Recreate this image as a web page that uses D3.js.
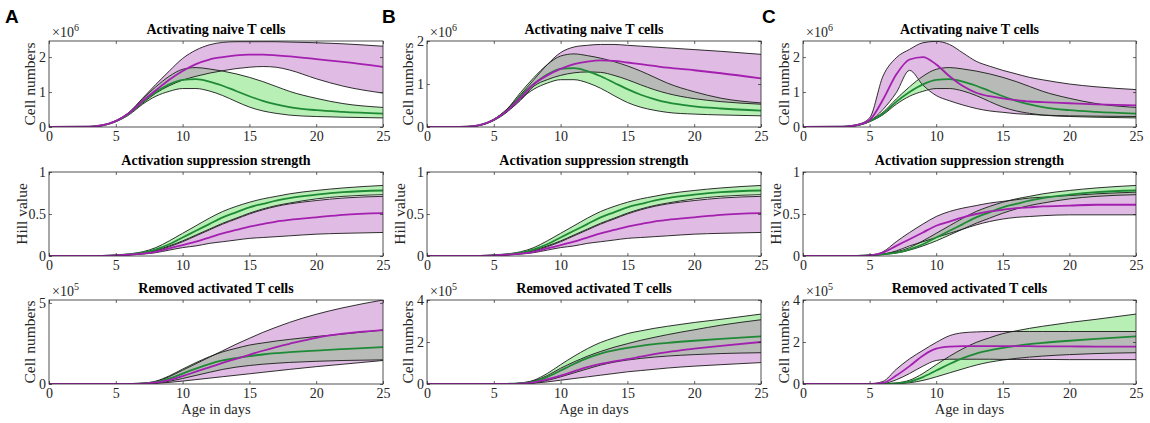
<!DOCTYPE html>
<html>
<head>
<meta charset="utf-8">
<script src="https://cdn.jsdelivr.net/npm/d3@7"></script>
<style>
  body { margin: 0; background: #fff; }
  svg { display: block; }
  text { font-family: "Liberation Serif", "Times New Roman", serif; }
</style>
</head>
<body>
<svg id="fig" width="1150" height="423"></svg>
<script>
// sample days shared by every curve
const days = [0, 3, 4, 5, 6, 7, 8, 9, 10, 11, 12, 13, 14, 15, 16, 17, 18, 20, 22, 25];

// row 1: activating naive T cells (x 1e6) -- green band is the same in every column
const gLow1 = [0, 0.01, 0.04, 0.15, 0.35, 0.65, 0.88, 1.02, 1.1, 1.1, 1.03, 0.9, 0.73, 0.57, 0.46, 0.39, 0.34, 0.3, 0.28, 0.26];
const gMid1 = [0, 0.01, 0.05, 0.17, 0.38, 0.72, 1.0, 1.22, 1.35, 1.37, 1.3, 1.18, 1.03, 0.88, 0.75, 0.65, 0.57, 0.48, 0.43, 0.38];
const gUp1 = [0, 0.01, 0.05, 0.18, 0.42, 0.8, 1.15, 1.45, 1.65, 1.7, 1.66, 1.6, 1.52, 1.42, 1.3, 1.16, 1.02, 0.82, 0.67, 0.56];

const pLowA1 = [0, 0.01, 0.05, 0.17, 0.38, 0.68, 0.97, 1.18, 1.34, 1.45, 1.54, 1.61, 1.67, 1.71, 1.73, 1.71, 1.63, 1.38, 1.17, 0.97];
const pMidA1 = [0, 0.01, 0.05, 0.17, 0.4, 0.74, 1.05, 1.35, 1.6, 1.8, 1.93, 2.0, 2.05, 2.07, 2.07, 2.05, 2.02, 1.94, 1.86, 1.72];
const pUpA1 = [0, 0.01, 0.05, 0.18, 0.42, 0.82, 1.22, 1.6, 1.96, 2.2, 2.35, 2.42, 2.44, 2.44, 2.44, 2.44, 2.43, 2.41, 2.38, 2.31];

const pLowB1 = [0, 0.01, 0.04, 0.16, 0.36, 0.62, 0.95, 1.1, 1.2, 1.26, 1.28, 1.27, 1.2, 1.1, 0.98, 0.87, 0.78, 0.66, 0.59, 0.53];
const pMidB1 = [0, 0.01, 0.05, 0.17, 0.38, 0.68, 1.0, 1.2, 1.35, 1.46, 1.52, 1.55, 1.54, 1.5, 1.46, 1.42, 1.38, 1.32, 1.25, 1.13];
const pUpB1 = [0, 0.01, 0.05, 0.18, 0.42, 0.75, 1.1, 1.45, 1.73, 1.86, 1.9, 1.92, 1.92, 1.9, 1.88, 1.86, 1.84, 1.8, 1.76, 1.69];

const pLowC1 = [0, 0.01, 0.04, 0.16, 0.5, 0.98, 1.62, 1.2, 0.9, 0.75, 0.63, 0.53, 0.46, 0.42, 0.38, 0.36, 0.34, 0.32, 0.31, 0.3];
const pMidC1 = [0, 0.01, 0.05, 0.2, 0.78, 1.5, 1.93, 2.0, 1.79, 1.45, 1.17, 0.98, 0.88, 0.82, 0.77, 0.73, 0.71, 0.68, 0.65, 0.62];
const pUpC1 = [0, 0.01, 0.06, 0.26, 1.45, 1.98, 2.22, 2.41, 2.45, 2.36, 2.12, 1.88, 1.74, 1.62, 1.52, 1.42, 1.35, 1.23, 1.15, 1.07];

// row 2: activation suppression strength (hill value)
const gLow2 = [0, 0, 0.002, 0.008, 0.018, 0.035, 0.07, 0.12, 0.18, 0.25, 0.32, 0.39, 0.45, 0.51, 0.56, 0.6, 0.63, 0.68, 0.71, 0.73];
const gMid2 = [0, 0, 0.002, 0.01, 0.02, 0.04, 0.08, 0.14, 0.22, 0.3, 0.38, 0.46, 0.52, 0.58, 0.62, 0.66, 0.69, 0.73, 0.76, 0.78];
const gUp2 = [0, 0, 0.002, 0.01, 0.025, 0.05, 0.1, 0.18, 0.27, 0.36, 0.45, 0.53, 0.59, 0.64, 0.68, 0.71, 0.74, 0.78, 0.81, 0.84];

const pLowA2 = [0, 0, 0.002, 0.006, 0.012, 0.022, 0.04, 0.07, 0.1, 0.12, 0.15, 0.17, 0.19, 0.21, 0.22, 0.23, 0.24, 0.26, 0.27, 0.28];
const pMidA2 = [0, 0, 0.002, 0.007, 0.015, 0.028, 0.05, 0.09, 0.13, 0.17, 0.22, 0.27, 0.31, 0.35, 0.38, 0.41, 0.43, 0.46, 0.49, 0.51];
const pUpA2 = [0, 0, 0.002, 0.008, 0.017, 0.03, 0.06, 0.11, 0.17, 0.24, 0.31, 0.38, 0.44, 0.5, 0.55, 0.59, 0.62, 0.66, 0.69, 0.71];

const pLowB2 = [0, 0, 0.002, 0.006, 0.012, 0.022, 0.04, 0.07, 0.1, 0.12, 0.15, 0.17, 0.19, 0.21, 0.22, 0.23, 0.24, 0.26, 0.27, 0.28];
const pMidB2 = [0, 0, 0.002, 0.007, 0.015, 0.028, 0.05, 0.09, 0.13, 0.17, 0.22, 0.27, 0.31, 0.35, 0.38, 0.41, 0.43, 0.46, 0.49, 0.51];
const pUpB2 = [0, 0, 0.002, 0.008, 0.017, 0.03, 0.06, 0.11, 0.17, 0.24, 0.31, 0.38, 0.44, 0.5, 0.55, 0.59, 0.62, 0.66, 0.69, 0.71];

const pLowC2 = [0, 0, 0.002, 0.006, 0.02, 0.06, 0.12, 0.17, 0.22, 0.27, 0.32, 0.37, 0.41, 0.44, 0.46, 0.47, 0.48, 0.49, 0.49, 0.49];
const pMidC2 = [0, 0, 0.002, 0.008, 0.04, 0.12, 0.2, 0.28, 0.36, 0.41, 0.46, 0.5, 0.53, 0.55, 0.57, 0.58, 0.59, 0.6, 0.61, 0.61];
const pUpC2 = [0, 0, 0.002, 0.01, 0.05, 0.17, 0.28, 0.38, 0.47, 0.53, 0.57, 0.6, 0.63, 0.65, 0.67, 0.69, 0.7, 0.72, 0.74, 0.76];

// row 3: removed activated T cells (x 1e5)
const gLow3 = [0, 0, 0, 0, 0, 0.02, 0.06, 0.17, 0.34, 0.53, 0.72, 0.9, 1.04, 1.14, 1.22, 1.28, 1.33, 1.4, 1.45, 1.49];
const gMid3 = [0, 0, 0, 0, 0.01, 0.03, 0.11, 0.33, 0.64, 0.95, 1.23, 1.45, 1.6, 1.72, 1.82, 1.9, 1.96, 2.06, 2.15, 2.27];
const gUp3 = [0, 0, 0, 0, 0.01, 0.05, 0.18, 0.5, 0.92, 1.32, 1.68, 1.98, 2.2, 2.4, 2.53, 2.65, 2.75, 2.93, 3.08, 3.33];

const pLowA3 = [0, 0, 0, 0, 0.003, 0.01, 0.04, 0.1, 0.18, 0.27, 0.36, 0.45, 0.54, 0.63, 0.72, 0.81, 0.9, 1.07, 1.22, 1.45];
const pMidA3 = [0, 0, 0, 0, 0.005, 0.02, 0.08, 0.24, 0.48, 0.76, 1.03, 1.3, 1.55, 1.8, 2.05, 2.28, 2.48, 2.85, 3.1, 3.32];
const pUpA3 = [0, 0, 0, 0, 0.01, 0.04, 0.15, 0.45, 0.85, 1.25, 1.65, 2.05, 2.45, 2.82, 3.18, 3.5, 3.8, 4.3, 4.7, 5.18];

const pLowB3 = [0, 0, 0, 0, 0.003, 0.01, 0.04, 0.1, 0.18, 0.26, 0.34, 0.42, 0.5, 0.58, 0.64, 0.7, 0.76, 0.85, 0.92, 1.02];
const pMidB3 = [0, 0, 0, 0, 0.005, 0.02, 0.08, 0.22, 0.4, 0.6, 0.8, 0.96, 1.08, 1.18, 1.3, 1.42, 1.52, 1.68, 1.82, 2.0];
const pUpB3 = [0, 0, 0, 0, 0.01, 0.04, 0.15, 0.4, 0.75, 1.05, 1.32, 1.55, 1.75, 1.92, 2.08, 2.22, 2.35, 2.58, 2.8, 3.06];

const pLowC3 = [0, 0, 0, 0.003, 0.02, 0.2, 0.5, 0.85, 1.12, 1.18, 1.18, 1.18, 1.18, 1.17, 1.17, 1.17, 1.17, 1.16, 1.16, 1.16];
const pMidC3 = [0, 0, 0, 0.005, 0.05, 0.4, 0.85, 1.35, 1.68, 1.78, 1.8, 1.8, 1.8, 1.8, 1.8, 1.8, 1.79, 1.79, 1.78, 1.78];
const pUpC3 = [0, 0, 0, 0.01, 0.12, 0.7, 1.2, 1.6, 1.98, 2.3, 2.44, 2.48, 2.5, 2.5, 2.5, 2.5, 2.5, 2.5, 2.5, 2.5];

// labels
const panelLetters = ["A", "B", "C"];
const rowTitles = ["Activating naive T cells", "Activation suppression strength", "Removed activated T cells"];
const rowYLabels = ["Cell numbers", "Hill value", "Cell numbers"];
const rowExponents = ["6", null, "5"];
const xTicks = [0, 5, 10, 15, 20, 25];
const xLabel = "Age in days";

const purpleFill = "#e0bbe3";
const greenFill = "#b7efb5";
const grayFill = "#b8bab7";
const purpleLine = "#a31fb0";
const greenLine = "#1f8a35";
const edgeColor = "#1a1a1a";
const axisColor = "#262626";

const cols = [
  { left: 49, right: 383 },
  { left: 427, right: 761 },
  { left: 803, right: 1136 },
];
const rows = [
  { top: 41, bottom: 127, labelOffset: 20 },
  { top: 172, bottom: 256, labelOffset: 28 },
  { top: 300, bottom: 384, labelOffset: 20 },
];
const greenBands = [
  [gLow1, gMid1, gUp1],
  [gLow2, gMid2, gUp2],
  [gLow3, gMid3, gUp3],
];

const panels = [
  { row: 0, col: 0, purple: [pLowA1, pMidA1, pUpA1], ymax: 2.46, yticks: [0, 1, 2] },
  { row: 0, col: 1, purple: [pLowB1, pMidB1, pUpB1], ymax: 2, yticks: [0, 1, 2] },
  { row: 0, col: 2, purple: [pLowC1, pMidC1, pUpC1], ymax: 2.46, yticks: [0, 1, 2] },
  { row: 1, col: 0, purple: [pLowA2, pMidA2, pUpA2], ymax: 1, yticks: [0, 0.5, 1] },
  { row: 1, col: 1, purple: [pLowB2, pMidB2, pUpB2], ymax: 1, yticks: [0, 0.5, 1] },
  { row: 1, col: 2, purple: [pLowC2, pMidC2, pUpC2], ymax: 1, yticks: [0, 0.5, 1] },
  { row: 2, col: 0, purple: [pLowA3, pMidA3, pUpA3], ymax: 5.18, yticks: [0, 5] },
  { row: 2, col: 1, purple: [pLowB3, pMidB3, pUpB3], ymax: 4, yticks: [0, 2, 4] },
  { row: 2, col: 2, purple: [pLowC3, pMidC3, pUpC3], ymax: 4, yticks: [0, 2, 4] },
];

const svg = d3.select("#fig");
const defs = svg.append("defs");

panels.forEach((p, i) => drawPanel(p, i));

// panel letters
panelLetters.forEach((letter, i) => {
  svg
    .append("text")
    .attr("x", [5, 382, 762][i])
    .attr("y", 23)
    .style("font-family", "'Liberation Sans', Arial, sans-serif")
    .style("font-weight", "bold")
    .style("font-size", "19px")
    .text(letter);
});

function drawPanel(p, i) {
  const c = cols[p.col];
  const r = rows[p.row];
  const [gl, gm, gu] = greenBands[p.row];
  const [pl, pm, pu] = p.purple;

  const x = d3.scaleLinear().domain([0, 25]).range([c.left, c.right]);
  const y = d3.scaleLinear().domain([0, p.ymax]).range([r.bottom, r.top]);

  const area = (lo, hi) =>
    d3
      .area()
      .x((d, k) => x(days[k]))
      .y0((d, k) => y(lo[k]))
      .y1((d, k) => y(hi[k]))
      .curve(d3.curveMonotoneX)(days);
  const line = (arr) =>
    d3
      .line()
      .x((d, k) => x(days[k]))
      .y((d, k) => y(arr[k]))
      .curve(d3.curveMonotoneX)(days);

  defs
    .append("clipPath")
    .attr("id", `box${i}`)
    .append("rect")
    .attr("x", c.left)
    .attr("y", r.top)
    .attr("width", c.right - c.left)
    .attr("height", r.bottom - r.top);
  defs
    .append("clipPath")
    .attr("id", `pband${i}`)
    .append("path")
    .attr("d", area(pl, pu));

  const g = svg.append("g");
  const plot = g.append("g").attr("clip-path", `url(#box${i})`);

  plot.append("path").attr("d", area(pl, pu)).attr("fill", purpleFill);
  plot.append("path").attr("d", area(gl, gu)).attr("fill", greenFill);
  // overlap of both bands shows as gray
  plot
    .append("g")
    .attr("clip-path", `url(#pband${i})`)
    .append("path")
    .attr("d", area(gl, gu))
    .attr("fill", grayFill);

  [pl, pu, gl, gu].forEach((arr) => {
    plot
      .append("path")
      .attr("d", line(arr))
      .attr("fill", "none")
      .attr("stroke", edgeColor)
      .attr("stroke-width", 0.9);
  });
  plot
    .append("path")
    .attr("d", line(gm))
    .attr("fill", "none")
    .attr("stroke", greenLine)
    .attr("stroke-width", 1.8);
  plot
    .append("path")
    .attr("d", line(pm))
    .attr("fill", "none")
    .attr("stroke", purpleLine)
    .attr("stroke-width", 1.8);

  // axes (ticks inside, box on)
  const styleAxis = (sel) => {
    sel.attr("font-size", null).attr("font-family", null);
    sel.select(".domain").remove();
    sel.selectAll("line").attr("stroke", axisColor).attr("stroke-width", 0.7);
    sel
      .selectAll("text")
      .attr("fill", axisColor)
      .style("font-size", "14px")
      .style("font-family", "'Liberation Serif', 'Times New Roman', serif");
  };
  g.append("g")
    .attr("transform", `translate(0,${r.bottom})`)
    .call(d3.axisBottom(x).tickValues(xTicks).tickSize(-3).tickPadding(4).tickFormat(d3.format("d")))
    .call(styleAxis);
  g.append("g")
    .attr("transform", `translate(0,${r.top})`)
    .call(d3.axisTop(x).tickValues(xTicks).tickSize(-3).tickFormat(""))
    .call(styleAxis);
  g.append("g")
    .attr("transform", `translate(${c.left},0)`)
    .call(d3.axisLeft(y).tickValues(p.yticks).tickSize(-3).tickPadding(3).tickFormat(d3.format("~g")))
    .call(styleAxis);
  g.append("g")
    .attr("transform", `translate(${c.right},0)`)
    .call(d3.axisRight(y).tickValues(p.yticks).tickSize(-3).tickFormat(""))
    .call(styleAxis);

  g.append("rect")
    .attr("x", c.left)
    .attr("y", r.top)
    .attr("width", c.right - c.left)
    .attr("height", r.bottom - r.top)
    .attr("fill", "none")
    .attr("stroke", axisColor)
    .attr("stroke-width", 0.8);

  // title
  g.append("text")
    .attr("x", (c.left + c.right) / 2)
    .attr("y", r.top - 7)
    .attr("text-anchor", "middle")
    .style("font-weight", "bold")
    .style("font-size", "14px")
    .text(rowTitles[p.row]);

  // y label
  g.append("text")
    .attr("transform", `translate(${c.left - r.labelOffset},${(r.top + r.bottom) / 2}) rotate(-90)`)
    .attr("text-anchor", "middle")
    .attr("dominant-baseline", "central")
    .attr("fill", axisColor)
    .style("font-size", "15.5px")
    .text(rowYLabels[p.row]);

  // exponent
  if (rowExponents[p.row]) {
    const t = g
      .append("text")
      .attr("x", c.left + 3)
      .attr("y", r.top - 4)
      .attr("fill", axisColor)
      .style("font-size", "14px")
      .text("\u00d710");
    t.append("tspan").attr("dy", -6).style("font-size", "10px").text(rowExponents[p.row]);
  }

  // x label on bottom row
  if (p.row === 2) {
    g.append("text")
      .attr("x", (c.left + c.right) / 2)
      .attr("y", 414)
      .attr("text-anchor", "middle")
      .attr("fill", axisColor)
      .style("font-size", "14.5px")
      .text(xLabel);
  }
}
</script>
</body>
</html>
